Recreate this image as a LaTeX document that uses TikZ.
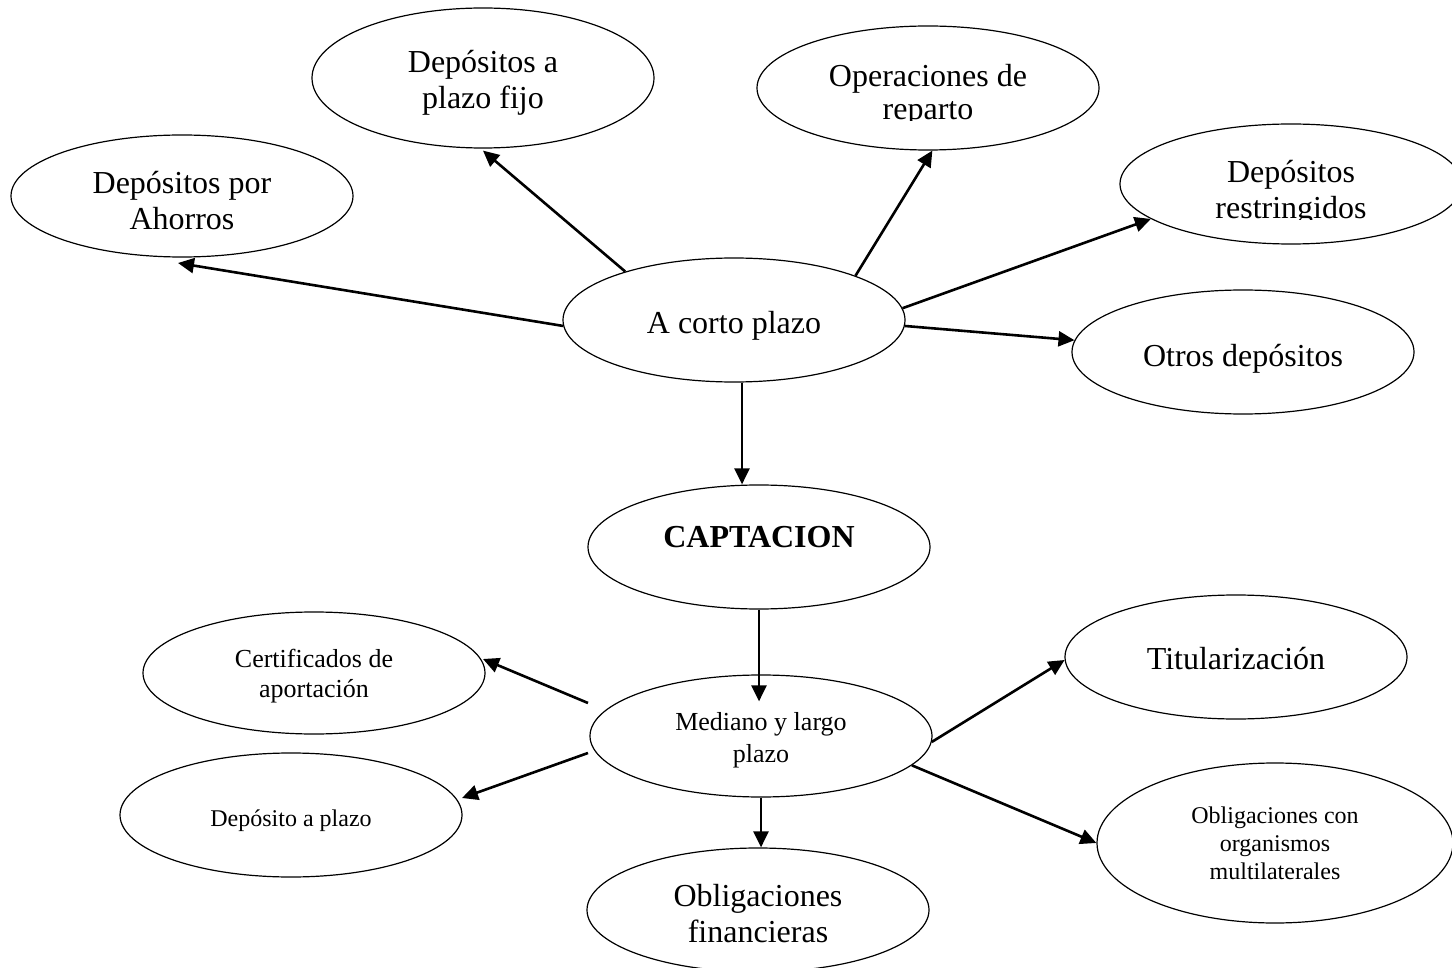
\documentclass[tikz,border=0pt]{standalone}
\usepackage{fontspec}
\setmainfont{Liberation Serif}
\usetikzlibrary{shapes.geometric,arrows.meta,calc}
\newcommand{\lowerby}[1]{\rule{0pt}{#1}}
\begin{document}
\begin{tikzpicture}[x=0.5pt,y=-0.5pt,
  ell/.style 2 args={draw, ellipse, inner sep=0pt, line width=0.6pt,
    minimum width=#1, minimum height=#2},
  txtbig/.style={font=\fontsize{16pt}{18pt}\selectfont},
  txtmid/.style={font=\fontsize{13pt}{15pt}\selectfont},
  txtsm/.style={font=\fontsize{12pt}{14pt}\selectfont},
  arr/.style={line width=1.3pt, -{Triangle[length=8pt,width=7.5pt]}}
]
\useasboundingbox (0,0) rectangle (1452,968);

% top group
\node[ell={171pt}{70pt}, txtbig, align=center] (fijo) at (483,78) {\lowerby{16pt}Depósitos a\\plazo fijo};
\node[ell={171pt}{62pt}] (reparto) at (928,88) {};
\begin{scope}
  \clip (740,0) rectangle (1110,121);
  \node[font=\fontsize{16pt}{16.5pt}\selectfont, align=center, yshift=-3.5pt] at (reparto.center) {Operaciones de\\reparto};
\end{scope}
\node[ell={171pt}{61pt}, txtbig, align=center] (ahorros) at (182,196) {\lowerby{16pt}Depósitos por\\Ahorros};
\node[ell={171pt}{60pt}] (restr) at (1291,184) {};
\begin{scope}
  \clip (1100,100) rectangle (1460,220);
  \node[txtbig, align=center, yshift=-4.3pt] at (restr.center) {Depósitos\\restringidos};
\end{scope}
\node[ell={171pt}{62pt}, txtbig, text height=14pt, text depth=0pt] (acorto) at (734,320) {A corto plazo};
\node[ell={171pt}{62pt}, txtbig, text height=14pt, text depth=0pt] (otros) at (1243,352) {Otros depósitos};

% centre
\node[ell={171pt}{62pt}, txtbig, text height=0pt, text depth=0pt] (capt) at (759,547) {\textbf{CAPTACION}};

% bottom group
\node[ell={171pt}{61pt}, txtmid, align=center] (cert) at (314,673) {\lowerby{12pt}Certificados de\\aportación};
\node[ell={171pt}{62pt}, txtbig, text height=12pt, text depth=0pt] (titul) at (1236,657) {Titularización};
\node[ell={171pt}{61pt}, font=\fontsize{13pt}{16pt}\selectfont, align=center] (mediano) at (761,736) {\lowerby{12.9pt}Mediano y largo\\plazo};
\node[ell={171pt}{62pt}, txtsm, text height=11pt, text depth=0pt] (dplazo) at (291,815) {Depósito a plazo};
\node[ell={178pt}{80pt}, txtsm, align=center] (obcon) at (1275,843) {Obligaciones con\\organismos\\multilaterales};
\node[ell={171pt}{62pt}, txtbig, align=center] (obfin) at (758,910) {\lowerby{15pt}Obligaciones\\financieras};

% connectors from A corto plazo
\draw[arr] (acorto.182) -- ([shift={(-4,67)}]ahorros.center);
\draw[arr] (acorto.156) -- ([shift={(0,2)}]fijo.south);
\draw[arr] (acorto.20) -- (reparto.-86);
\draw[arr] (acorto.4) -- (restr.194);
\draw[arr] (acorto.-2) -- (otros.176);
\draw[arr] ([xshift=4pt]acorto.south) -- ([xshift=4pt]acorto.south |- capt.north);

% CAPTACION to Mediano
\draw[arr] (capt.south) -- ([yshift=-13.5pt]capt.south |- mediano.north);

% connectors from Mediano y largo plazo
\draw[arr] ([shift={(-173,-33)}]mediano.center) -- ([shift={(169,-14)}]cert.center);
\draw[arr] ([shift={(-173,17)}]mediano.center) -- ([shift={(171,-17)}]dplazo.center);
\draw[arr] (mediano.south) -- (mediano.south |- obfin.north);
\draw[arr] (mediano.-2) -- (titul.181);
\draw[arr] (mediano.-11) -- (obcon.west);
\end{tikzpicture}
\end{document}
